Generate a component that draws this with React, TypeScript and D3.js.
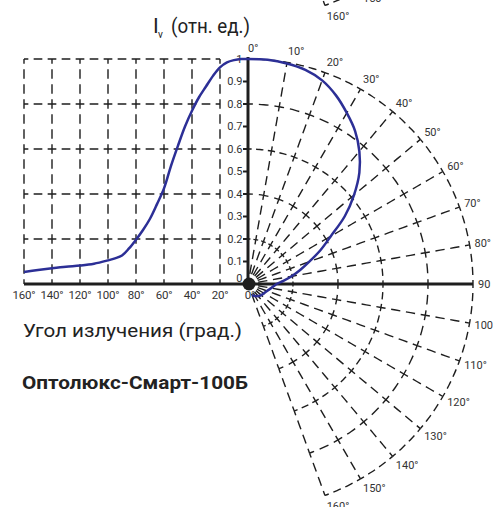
import React from "react";
import * as d3 from "d3";

// ---- data ----
const cartAngleTicks = [160, 140, 120, 100, 80, 60, 40, 20, 0];
const cartGridAngles = [160, 140, 120, 100, 80, 60, 40, 20];
const intensityTicks = [0, 0.1, 0.2, 0.3, 0.4, 0.5, 0.6, 0.7, 0.8, 0.9, 1];
const gridLevels = [0.2, 0.4, 0.6, 0.8, 1.0];
const polarAngles = [0, 10, 20, 30, 40, 50, 60, 70, 80, 90, 100, 110, 120, 130, 140, 150, 160];
const polarLabels = ["0°", "10°", "20°", "30°", "40°", "50°", "60°", "70°", "80°", "90", "100", "110°", "120°", "130°", "140°", "150°", "160°"];
const remnantAngles = [150, 160];
const curveAngles = [0, 5, 10, 15, 20, 25, 30, 35, 40, 45, 50, 55, 60, 65, 70, 75, 80, 85, 90, 95, 100, 110, 120, 130, 140, 150, 160];
const curveValues = [1.0, 1.0, 0.995, 0.985, 0.963, 0.925, 0.878, 0.83, 0.77, 0.70, 0.615, 0.525, 0.425, 0.355, 0.29, 0.24, 0.197, 0.158, 0.127, 0.114, 0.105, 0.09, 0.082, 0.077, 0.07, 0.062, 0.053];

const yTitle = "(отн. ед.)";
const xTitle = "Угол излучения (град.)";
const productName = "Оптолюкс-Смарт-100Б";

// ---- layout ----
const W = 494;
const H = 507;
const cx = 248;
const cy = 284;
const R = 225;
const FONT = "Roboto, 'Open Sans', sans-serif";
const INK = "#1e1e1e";
const BLUE = "#2c2f96";

const xScale = d3.scaleLinear().domain([0, 160]).range([cx, cx - 224]);
const yScale = d3.scaleLinear().domain([0, 1]).range([cy, cy - R]);
const rScale = d3.scaleLinear().domain([0, 1]).range([0, R]);

// dashes centred on the grid crossings
function dashFor(L: number, target = 14.5) {
  const n = Math.max(1, Math.round(L / target));
  const p = L / n;
  const d = 0.62 * p;
  const g = p - d;
  return `${(d / 2).toFixed(2)} ${g.toFixed(2)} ${(d / 2).toFixed(2)} 0`;
}

const toRad = (a: number) => ((a - 90) * Math.PI) / 180;

function PolarGrid() {
  const els: any[] = [];
  gridLevels.forEach((lv, li) => {
    const r = rScale(lv);
    for (let i = 0; i < polarAngles.length - 1; i++) {
      const t0 = toRad(polarAngles[i]);
      const t1 = toRad(polarAngles[i + 1]);
      const p = d3.path();
      p.moveTo(cx + r * Math.cos(t0), cy + r * Math.sin(t0));
      p.arc(cx, cy, r, t0, t1);
      els.push(
        <path key={`a${li}-${i}`} d={p.toString()} fill="none" stroke={INK} strokeWidth={1.4} strokeDasharray={dashFor(r * (t1 - t0))} />
      );
    }
  });
  const radii = [0, ...gridLevels];
  polarAngles.forEach((a) => {
    const t = toRad(a);
    for (let i = 0; i < radii.length - 1; i++) {
      const r0 = rScale(radii[i]);
      const r1 = rScale(radii[i + 1]);
      els.push(
        <line
          key={`r${a}-${i}`}
          x1={cx + r0 * Math.cos(t)}
          y1={cy + r0 * Math.sin(t)}
          x2={cx + r1 * Math.cos(t)}
          y2={cy + r1 * Math.sin(t)}
          stroke={INK}
          strokeWidth={1.4}
          strokeDasharray={dashFor(r1 - r0)}
        />
      );
    }
  });
  return <g>{els}</g>;
}

function PolarLabels({ angles }: { angles: number[] }) {
  const rl = rScale(1) + 11;
  return (
    <g fontFamily={FONT} fontSize={11} fill="#333">
      {angles.map((a) => {
        const t = toRad(a);
        const s = Math.sin((a * Math.PI) / 180);
        const label = polarLabels[polarAngles.indexOf(a)];
        return (
          <text key={a} x={cx + rl * Math.cos(t) - 6 * s} y={cy + rl * Math.sin(t)} dy="0.35em" textAnchor="start">
            {label}
          </text>
        );
      })}
    </g>
  );
}

function CartGrid() {
  const els: any[] = [];
  const xs = cartGridAngles;
  gridLevels.forEach((lv) => {
    for (let i = 0; i < xs.length - 1; i++) {
      const x0 = xScale(xs[i]);
      const x1 = xScale(xs[i + 1]);
      els.push(
        <line key={`h${lv}-${i}`} x1={x0} x2={x1} y1={yScale(lv)} y2={yScale(lv)} stroke={INK} strokeWidth={1.4} strokeDasharray={dashFor(x1 - x0)} />
      );
    }
  });
  const levels = [0, ...gridLevels];
  xs.forEach((a) => {
    for (let i = 0; i < levels.length - 1; i++) {
      const y0 = yScale(levels[i + 1]);
      const y1 = yScale(levels[i]);
      els.push(
        <line key={`v${a}-${i}`} x1={xScale(a)} x2={xScale(a)} y1={y0} y2={y1} stroke={INK} strokeWidth={1.4} strokeDasharray={dashFor(y1 - y0)} />
      );
    }
  });
  return <g>{els}</g>;
}

export default function App() {
  const cartLine = d3
    .line<number>()
    .x((_, i) => xScale(curveAngles[i]))
    .y((v) => yScale(v))
    .curve(d3.curveCatmullRom)(curveValues) as string;

  const polarLine = d3
    .lineRadial<number>()
    .angle((_, i) => (curveAngles[i] * Math.PI) / 180)
    .radius((v) => rScale(v))
    .curve(d3.curveCatmullRom)(curveValues) as string;

  return (
    <svg width={W} height={H} style={{ position: "absolute", left: 0, top: 0, background: "#fff" }}>
      <rect x={0} y={0} width={W} height={H} fill="#fff" />
      {/* remnant of the previous chart above */}
      <g transform="translate(0,-490)">
        <PolarGrid />
        <PolarLabels angles={remnantAngles} />
      </g>

      <CartGrid />
      <PolarGrid />
      <PolarLabels angles={polarAngles} />

      {/* axes */}
      <line x1={cx} x2={cx} y1={yScale(1) - 2} y2={cy} stroke={INK} strokeWidth={3} />
      <line x1={xScale(160)} x2={cx + rScale(1)} y1={cy} y2={cy} stroke={INK} strokeWidth={3} />
      <circle cx={cx + 1} cy={cy} r={6.5} fill={INK} />

      {/* y ticks */}
      <g fontFamily={FONT} fontSize={11} fill="#333">
        {intensityTicks.map((v) => (
          <g key={v}>
            <line x1={cx - 5} x2={cx} y1={yScale(v)} y2={yScale(v)} stroke={INK} strokeWidth={2} />
            <text x={cx - 5.5} y={yScale(v) - (v === 0 ? 6 : 0)} dy="0.35em" textAnchor="end">
              {d3.format("~g")(v)}
            </text>
          </g>
        ))}
      </g>

      {/* x ticks */}
      <g fontFamily={FONT} fontSize={11.5} fill="#333" letterSpacing={-0.2}>
        {cartAngleTicks.map((a) => (
          <text key={a} x={xScale(a) + (a === 0 ? 2 : 0)} y={cy + 11} dy="0.35em" textAnchor="middle">
            {`${a}°`}
          </text>
        ))}
      </g>

      {/* titles */}
      <g fontFamily={FONT} fill="#222">
        <text x={153} y={33} fontSize={21}>I</text>
        <text x={158} y={38} fontSize={10}>v</text>
        <text x={171} y={33} fontSize={20} textLength={79} lengthAdjust="spacingAndGlyphs">{yTitle}</text>
        <text x={23} y={337} fontSize={19} textLength={219} lengthAdjust="spacingAndGlyphs">{xTitle}</text>
        <text x={22} y={389} fontSize={18} fontWeight="bold" textLength={226} lengthAdjust="spacingAndGlyphs">{productName}</text>
      </g>

      {/* curves */}
      <path d={cartLine} fill="none" stroke={BLUE} strokeWidth={2.5} strokeLinejoin="round" />
      <path d={polarLine} transform={`translate(${cx},${cy})`} fill="none" stroke={BLUE} strokeWidth={2.5} strokeLinejoin="round" />
    </svg>
  );
}
